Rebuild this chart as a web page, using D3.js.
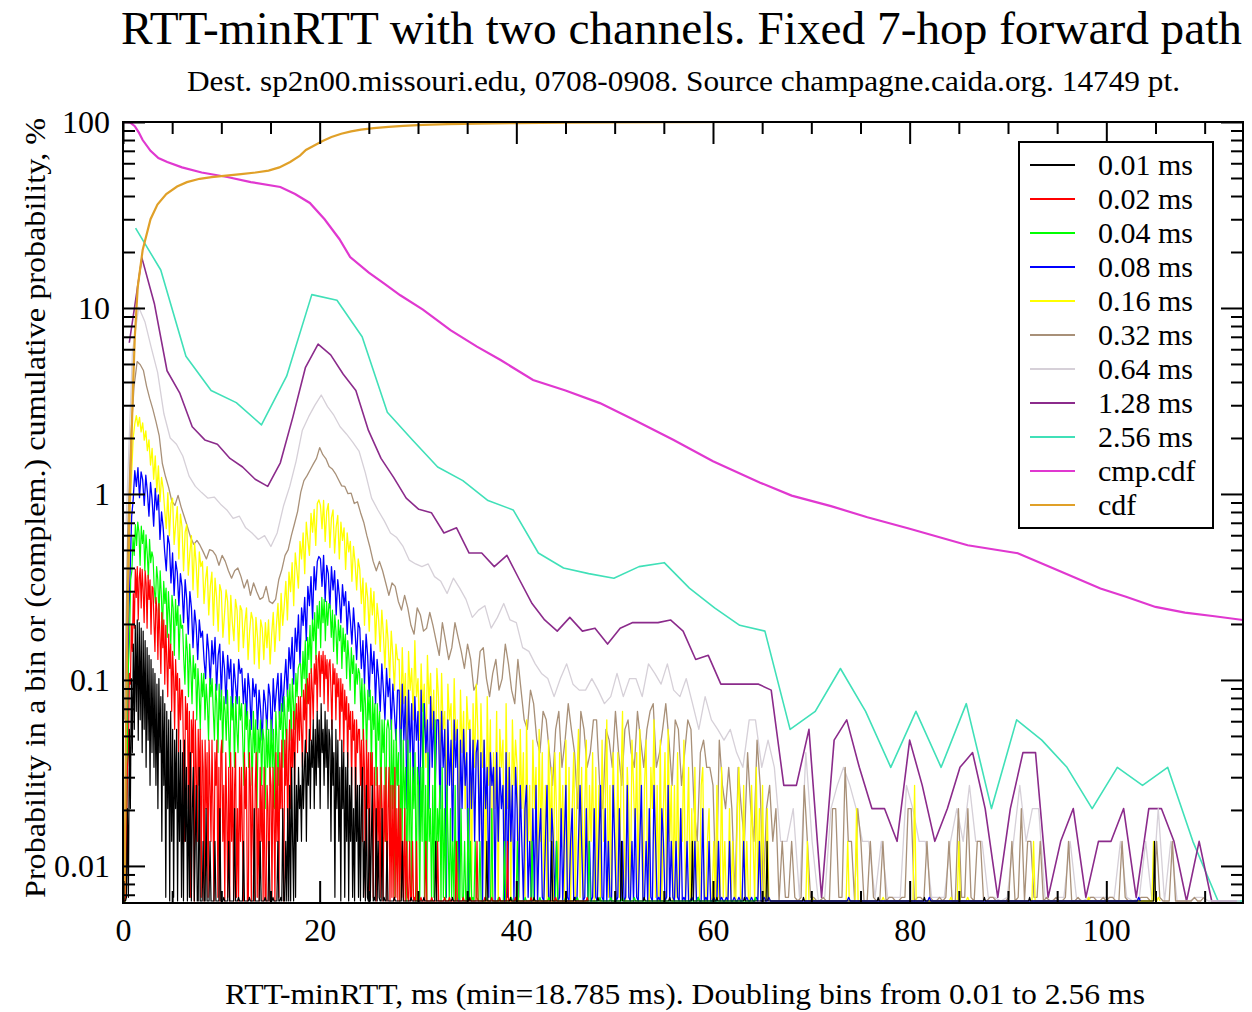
<!DOCTYPE html>
<html>
<head>
<meta charset="utf-8">
<script src="https://cdn.jsdelivr.net/npm/d3@7"></script>
<style>
  body { margin: 0; background: #ffffff; }
  svg { display: block; }
  text { font-family: "Liberation Serif", "Times New Roman", serif; fill: #000; }
</style>
</head>
<body>
<svg id="chart" width="1252" height="1012"></svg>
<script>
// ---- data -------------------------------------------------------------
const TOTAL_POINTS = 14749;           // number of RTT samples; bin value = count / total, in %

const seriesLabels = ["0.01 ms", "0.02 ms", "0.04 ms", "0.08 ms", "0.16 ms", "0.32 ms",
                      "0.64 ms", "1.28 ms", "2.56 ms", "cmp.cdf", "cdf"];
const seriesColors = ["#000000", "#ff0000", "#00ff00", "#0000ff", "#ffff00", "#a89078",
                      "#d6d0d8", "#8b2b8b", "#40e0b8", "#e038d0", "#e0a028"];

const xTickValues = [0, 20, 40, 60, 80, 100];
const yTickValues = [0.01, 0.1, 1, 10, 100];
const yTickLabels = ["0.01", "0.1", "1", "10", "100"];

// Bin counts. Fine bins are sampled at a stride wider than the bin itself;
// isolated non-empty bins further out are listed as [ms, count].
const counts256 = [3967, 2360, 811, 531, 457, 347, 634, 1740, 1622, 1032, 406, 288, 206, 174, 136,
  121, 71, 59, 55, 52, 60, 63, 46, 36, 29, 27, 8, 10, 17, 10, 5, 10, 5, 11, 3, 9, 7, 5, 3, 5, 4, 5, 2, 0, 0];

const counts128 = [959, 2743, 1549, 678, 516, 339, 288, 273, 229, 206, 177, 162, 217, 383, 708,
  944, 826, 649, 531, 324, 229, 181, 140, 122, 117, 91, 97, 71, 71, 60, 69, 51, 38, 31, 27, 32, 27,
  28, 23, 28, 30, 30, 30, 31, 27, 19, 20, 14, 14, 14, 14, 13, 4, 4, 8, 1, 7, 9, 5, 3, 3, 2, 7, 4,
  2, 3, 5, 6, 3, 1, 3, 6, 6, 1, 2, 3, 1, 2, 2, 3, 1, 3, 3, 2, 0, 2, 0, 0, 0];

const counts064 = [103, 855, 1490, 1239, 900, 664, 398, 295, 273, 236, 184, 162, 150, 140, 142,
  130, 121, 109, 112, 97, 91, 84, 88, 77, 91, 127, 162, 221, 325, 384, 443, 502, 435, 391, 339,
  310, 280, 251, 192, 140, 121, 106, 91, 86, 77, 65, 62, 60, 62, 53, 50, 43, 52, 46, 40, 32, 35,
  37, 28, 32, 38, 31, 30, 22, 21, 18, 16, 15, 12, 15, 18, 14, 13, 13, 15, 13, 11, 12, 16, 12, 15,
  15, 12, 18, 16, 14, 18, 13, 12, 15, 11, 8, 12, 9, 8, 7, 8, 6, 5, 9, 9, 5, 7, 5,
  2, 2, 3, 1, 6, 2, 0, 1, 3, 4, 5, 4, 3, 2, 2, 1, 2, 1, 1, 1, 4, 3, 2, 2, 1, 1, 1, 2, 3, 2, 4, 2,
  2, 1, 1, 0, 1, 2, 4, 2, 3, 3, 1, 0, 1, 1, 2, 1, 0, 1, 1, 1, 1, 1, 2, 1, 0, 1, 2, 0, 3, 0, 2, 0,
  0, 0, 1, 1, 0, 0, 0, 0, 0, 0];

const counts032 = [9, 94, 300, 555, 760, 730, 680, 559, 480, 420, 360, 304, 215, 183, 160, 135,
  128, 145, 125, 111, 98, 86, 79, 83, 78, 72, 66, 74, 73, 69, 61, 69, 64, 57, 52, 57, 59, 53, 46,
  51, 42, 49, 44, 40, 41, 47, 39, 38, 40, 51, 58, 69, 74, 88, 102, 119, 151, 174, 185, 199, 214,
  229, 262, 240, 228, 207, 201, 190, 176, 163, 162, 148, 149, 131, 134, 117, 104, 88, 76, 64, 57,
  64, 57, 49, 42, 49, 47, 39, 35, 42, 36, 29, 26, 36, 33, 27, 28, 34, 29, 24, 20, 30, 24, 19, 22,
  30, 25, 21, 17, 23, 19, 13, 14, 21, 22, 15, 12, 16, 19, 13, 15, 23, 18, 13, 11, 19, 13, 9, 8, 13,
  11, 7, 6, 10, 9, 6, 4, 8, 10, 5, 7, 11, 8, 6, 3, 10, 8, 5, 6, 9, 9, 4, 3, 8, 7, 5, 10, 6, 4, 8,
  9, 6, 5, 10, 7, 5, 8, 10, 11, 5, 6, 8, 11, 7, 4, 9, 8, 4, 6, 9, 8, 3, 2, 6, 7, 5, 5, 4, 1, 7, 4,
  3, 5, 3, 1, 5, 3, 2, 6, 3, 2, 7, 4, 1, 3, 4, 2, 3,
  0, 2, 1, 1, 2, 1, 0, 1, 4, 2, 1, 1, 0, 0, 1, 0, 0, 3, 3, 1, 1, 5, 2, 2, 0, 3, 2, 0, 0, 2, 1, 0,
  0, 2, 0, 1, 1, 0, 0, 1, 1, 3, 3, 0, 1, 1, 0, 2, 1, 0, 0, 1, 0, 1, 2, 0, 0, 3, 1, 1, 3, 1, 0, 2,
  2, 0, 0, 1, 1, 0, 0, 0, 0, 1, 2, 0, 1, 3, 0, 2, 2, 1, 1, 2, 0, 1, 0, 0, 1, 0, 0, 1, 2, 0, 0, 1,
  0, 0, 0, 1, 1, 0, 0, 1, 0, 1, 1, 0, 0, 2, 1, 0, 0, 0, 0, 1, 1, 1, 0, 0, 2, 1, 0, 0, 0, 2, 0, 0,
  0, 0, 0, 0, 1, 0, 0, 1];

const counts016 = [
  1, 0, 8, 46, 127, 191, 296, 352, 389, 341, 381, 318, 356, 287, 322, 252, 288, 211, 259, 177, 236, 151, 209, 134, 181,
  158, 121, 96, 150, 88, 131, 140, 79, 102, 126, 66, 115, 98, 57, 92, 101, 54, 71, 88, 45, 80, 62, 41, 72, 60,
  64, 38, 51, 60, 33, 47, 56, 29, 52, 41, 27, 48, 44, 25, 33, 45, 39, 23, 42, 30, 24, 40, 35, 21, 37,
  35, 22, 30, 36, 19, 27, 34, 31, 18, 32, 25, 17, 31, 28, 19, 30, 22, 31, 18, 26, 34, 21, 29, 38, 24,
  43, 29, 37, 50, 31, 56, 44, 63, 37, 71, 58, 46, 82, 66, 91, 55, 104, 83, 69, 116, 92, 122, 78, 131, 137,
  128, 96, 136, 82, 119, 131, 76, 110, 121, 71, 98, 113, 66, 104, 83, 97, 58, 91, 72, 82, 50, 77, 63, 45, 66,
  58, 38, 52, 29, 49, 41, 27, 46, 33, 44, 23, 38, 31, 21, 35, 26, 17, 31, 24, 15, 27, 20, 13, 23, 19,
  19, 8, 22, 11, 16, 6, 21, 13, 17, 9, 24, 12, 15, 7, 18, 10, 14, 5, 20, 11, 16, 8, 13, 4, 17,
  12, 5, 16, 8, 10, 3, 14, 9, 11, 4, 15, 7, 9, 2, 13, 6, 10, 3, 12, 8, 9, 1, 11, 5, 14,
  8, 2, 11, 5, 7, 0, 12, 4, 9, 1, 6, 3, 10, 0, 8, 5, 7, 1, 11, 3, 6, 0, 9, 4, 7,
  5, 0, 8, 3, 6, 1, 9, 2, 4, 0, 7, 3, 5, 0, 8, 2, 6, 1, 4, 0, 7, 2, 5, 0, 6,
  3, 0, 6, 2, 4, 0, 7, 1, 5, 0, 3, 6, 0, 4, 8, 1, 5, 0, 3, 7, 0, 4, 2, 6, 0,
  5, 1, 4, 0, 7, 2, 3, 9, 1, 4, 0, 6, 3, 0, 6, 1, 4, 10, 2, 0, 5, 3, 0, 7, 4,
  2, 6, 0, 8, 3, 0, 4, 7, 1, 0, 5, 3, 9, 1, 4, 0, 7, 0, 3, 6, 1, 8, 2, 4, 0,
  4, 1, 6, 0, 3, 2, 7, 0, 2, 5, 0, 3, 0, 5, 1, 2, 0, 4, 5, 1, 0, 2, 3, 0, 1,
  2, 0, 4, 1, 0, 5, 1, 2, 0, 1, 3, 0, 2, 1, 0, 3, 5, 0, 1, 4, 0, 2, 1, 0, 4,
  2, 0, 5, 1, 3, 0, 4, 1, 0, 3, 1, 0, 0];
const spikes016 = [[69.6, 2], [70.1, 1], [73.7, 2], [74.6, 3], [77.3, 1], [80.5, 4], [84.2, 1],
  [85.0, 2], [85.9, 1], [92.6, 2], [98.2, 1], [104.8, 2], [105.3, 1]];

const counts008 = [
  0, 1, 4, 28, 55, 112, 138, 197, 162, 204, 141, 194, 176, 128, 186, 151, 112, 170, 138, 99, 158, 121, 146, 84, 118,
  98, 72, 57, 88, 79, 49, 71, 42, 64, 56, 37, 55, 47, 30, 51, 40, 26, 44, 36, 22, 35, 29, 19, 31, 25,
  27, 19, 15, 26, 21, 14, 24, 18, 25, 13, 20, 23, 12, 21, 17, 11, 20, 15, 19, 10, 18, 14, 11, 19, 16,
  17, 11, 15, 9, 16, 13, 8, 15, 12, 14, 8, 13, 10, 7, 13, 11, 8, 14, 12, 7, 15, 10, 13, 16, 9,
  16, 10, 14, 19, 12, 22, 17, 25, 14, 28, 21, 33, 18, 36, 29, 41, 24, 47, 37, 53, 31, 60, 45, 64, 68,
  66, 47, 69, 39, 61, 55, 36, 60, 45, 57, 33, 51, 42, 30, 48, 37, 44, 26, 39, 31, 23, 36, 27, 19, 30,
  28, 17, 24, 14, 26, 20, 12, 23, 16, 21, 11, 19, 15, 10, 18, 13, 9, 17, 12, 15, 8, 14, 10, 7, 13,
  13, 5, 14, 7, 12, 3, 13, 6, 11, 4, 12, 7, 10, 2, 13, 5, 11, 6, 9, 3, 12, 5, 10, 4, 9,
  9, 3, 10, 5, 8, 1, 9, 4, 7, 2, 9, 5, 8, 0, 7, 3, 8, 4, 6, 1, 8, 3, 7, 2, 6,
  7, 2, 6, 0, 7, 3, 5, 1, 6, 4, 5, 0, 6, 2, 5, 3, 4, 0, 6, 1, 5, 2, 4, 0, 5,
  3, 1, 4, 2, 0, 3, 4, 1, 2, 0, 3, 1, 4, 0, 2, 3, 1, 0, 2, 4, 1, 0, 3, 2, 0,
  2, 0, 1, 3, 0, 2, 4, 1, 0, 2, 3, 0, 1, 0, 2, 4, 2, 0, 1, 3, 0, 2, 0, 1, 3,
  1, 0, 2, 4, 1, 0, 3, 0, 2, 1, 0, 4, 2, 0, 1, 3, 0, 2, 0, 1, 4, 1, 0, 2, 0,
  3, 1, 0, 2, 4, 0, 1, 2, 0, 3, 1, 0, 4, 2, 0, 1, 0, 3, 2, 0, 1, 4, 0, 2, 1,
  0, 2, 1, 0, 3, 0, 1, 0, 2, 0, 0, 1, 0, 2, 0, 1, 0, 0, 3, 0, 1, 0, 2, 0, 0,
  1, 0, 0, 2, 0, 1, 0, 0, 1, 0, 2, 0, 0, 1, 0, 0, 1, 0, 0, 2, 0, 1, 0, 0, 1,
  0, 0, 1, 0, 2, 0, 0, 1, 0, 0, 1, 0, 0];
const spikes008 = [[73.8, 1], [82.0, 1], [103.3, 1]];

const counts004 = [
  0, 0, 2, 4, 17, 24, 51, 57, 86, 69, 101, 78, 104, 92, 61, 99, 80, 94, 57, 89, 71, 52, 84, 63, 72,
  67, 45, 38, 60, 51, 32, 57, 42, 27, 50, 38, 46, 25, 44, 33, 23, 42, 36, 20, 40, 29, 37, 19, 33, 28,
  29, 19, 14, 26, 21, 12, 23, 17, 11, 20, 15, 18, 9, 17, 13, 8, 16, 12, 16, 9, 14, 11, 7, 15, 12,
  15, 10, 7, 14, 11, 6, 14, 9, 13, 6, 12, 10, 7, 13, 8, 5, 12, 9, 11, 5, 12, 8, 6, 12, 9,
  11, 7, 4, 11, 8, 10, 5, 9, 7, 4, 10, 6, 9, 3, 8, 6, 9, 4, 8, 7, 3, 9, 5, 8, 4,
  9, 5, 8, 3, 10, 7, 4, 10, 8, 11, 5, 12, 9, 6, 13, 10, 14, 7, 15, 11, 8, 16, 12, 17, 18,
  18, 12, 21, 15, 24, 11, 25, 19, 29, 16, 31, 24, 34, 19, 37, 28, 39, 22, 41, 30, 40, 24, 39, 29, 38,
  37, 25, 35, 21, 33, 27, 18, 31, 24, 29, 17, 28, 21, 26, 15, 24, 19, 13, 22, 16, 20, 11, 18, 14, 17,
  16, 10, 15, 7, 14, 11, 6, 13, 9, 13, 5, 12, 8, 11, 4, 11, 7, 10, 3, 9, 6, 9, 2, 8, 9,
  8, 2, 9, 3, 7, 1, 8, 4, 6, 0, 8, 2, 7, 3, 5, 0, 7, 2, 6, 1, 5, 3, 6, 0, 5,
  4, 0, 5, 2, 11, 1, 4, 0, 6, 2, 3, 0, 4, 1, 9, 0, 3, 2, 4, 0, 5, 1, 3, 0, 4,
  2, 0, 3, 1, 2, 0, 4, 0, 2, 1, 0, 3, 1, 0, 2, 0, 1, 3, 0, 2, 0, 1, 0, 2, 1];
const spikes004 = [[36.3, 2], [36.9, 1], [37.5, 3], [38.2, 1], [38.8, 2], [39.5, 1], [40.1, 2],
  [40.9, 1], [41.6, 2], [42.4, 1], [43.3, 1], [44.1, 2], [45.0, 1], [46.2, 1], [47.4, 2], [48.5, 1],
  [49.6, 1], [50.8, 1], [52.0, 1], [58.5, 1], [64.3, 1]];

const counts002 = [
  0, 0, 1, 2, 5, 6, 16, 14, 29, 21, 43, 28, 58, 41, 60, 31, 52, 59, 36, 58, 45, 30, 57, 49, 28, 54, 40, 51, 26, 47,
  46, 30, 21, 41, 35, 19, 38, 26, 16, 34, 22, 31, 14, 29, 19, 12, 26, 17, 23, 10, 21, 15, 8, 19, 13, 16, 6, 15, 9, 13,
  13, 6, 2, 12, 8, 11, 3, 10, 1, 9, 6, 10, 0, 9, 5, 2, 8, 4, 8, 1, 7, 5, 0, 7, 3, 6, 1, 7, 4, 2,
  7, 3, 0, 6, 4, 7, 1, 5, 0, 6, 7, 2, 4, 0, 6, 3, 1, 5, 0, 6, 2, 5, 0, 4, 6, 1, 3, 0, 5, 2,
  5, 2, 0, 6, 3, 5, 0, 1, 6, 4, 0, 5, 2, 0, 4, 6, 1, 3, 0, 5, 2, 4, 0, 5, 1, 0, 4, 3, 0, 5,
  4, 1, 5, 3, 0, 6, 2, 5, 1, 6, 3, 7, 2, 0, 7, 4, 8, 2, 6, 9, 3, 8, 5, 10, 4, 9, 11, 6, 12, 7,
  12, 8, 5, 13, 9, 14, 6, 15, 11, 16, 7, 17, 13, 9, 18, 14, 20, 10, 19, 21, 12, 20, 16, 21, 11, 20, 15, 19, 10, 18,
  19, 13, 8, 18, 14, 17, 9, 16, 12, 15, 7, 15, 10, 14, 6, 13, 9, 12, 5, 11, 8, 10, 4, 10, 7, 9, 3, 9, 6, 8,
  8, 4, 7, 2, 8, 5, 1, 7, 3, 6, 0, 6, 4, 6, 1, 5, 3, 0, 5, 2, 4, 1, 5, 3, 0, 4, 2, 5, 0, 3,
  5, 0, 4, 1, 4, 0, 5, 1, 3, 0, 4, 0, 3, 1, 2, 0, 3, 0, 2, 1, 0, 2, 0, 1, 2, 0, 1, 0, 2, 0];
const spikes002 = [[30.3, 1], [30.8, 2], [31.4, 1], [32.0, 2], [32.7, 1], [33.2, 1], [33.9, 2],
  [34.6, 1], [35.3, 1], [36.0, 2], [36.8, 1], [37.5, 1], [38.3, 1], [39.1, 2], [39.9, 1], [41.5, 1],
  [44.0, 1], [47.2, 1]];

const counts001 = [
  0, 0, 0, 1, 3, 1, 8, 3, 15, 6, 23, 8, 29, 10, 31, 7, 30, 9, 28, 6, 27, 8, 24, 5, 22, 7, 20, 4, 19, 6,
  17, 5, 16, 4, 14, 3, 15, 6, 12, 2, 13, 4, 11, 1, 10, 3, 9, 0, 10, 2, 8, 1, 7, 3, 8, 0, 6, 2, 7, 1,
  6, 0, 7, 2, 5, 0, 4, 1, 6, 0, 3, 5, 0, 2, 4, 0, 0, 5, 0, 0, 0, 2, 0, 0, 3, 0, 0, 0, 2, 0,
  0, 0, 0, 2, 0, 0, 0, 0, 3, 0, 0, 0, 1, 0, 0, 0, 0, 2, 0, 0, 0, 0, 0, 3, 0, 0, 0, 1, 0, 0,
  0, 0, 2, 0, 0, 0, 0, 0, 1, 0, 0, 0, 0, 3, 0, 0, 0, 0, 0, 2, 0, 0, 0, 0, 1, 0, 0, 0, 2, 0,
  0, 0, 1, 0, 0, 0, 0, 2, 0, 0, 1, 0, 3, 0, 0, 2, 0, 3, 0, 4, 0, 5, 2, 0, 6, 1, 4, 2, 5, 3,
  4, 2, 6, 3, 5, 7, 2, 6, 4, 8, 3, 7, 5, 9, 3, 8, 4, 10, 5, 9, 3, 11, 6, 8, 4, 10, 5, 9, 3, 8,
  7, 2, 9, 4, 6, 1, 8, 3, 7, 2, 5, 0, 7, 3, 6, 1, 5, 2, 6, 0, 4, 2, 5, 1, 3, 0, 5, 2, 4, 1,
  4, 0, 3, 5, 1, 2, 0, 4, 1, 0, 3, 0, 2, 4, 0, 1, 0, 3, 0, 2, 1, 0, 0, 3, 0, 1, 0, 0, 2, 0];
const spikes001 = [[27.6, 1], [28.4, 2], [29.3, 1], [30.6, 1], [31.8, 2], [33.5, 1], [35.2, 1],
  [37.0, 2], [39.4, 1], [41.8, 1], [43.6, 2], [45.9, 1], [48.3, 1], [50.7, 2], [53.0, 1], [55.6, 1],
  [57.9, 2], [60.4, 1], [63.2, 1], [65.5, 2], [69.2, 1], [76.8, 1], [81.5, 1], [87.6, 1], [92.2, 1],
  [104.9, 2]];

// Cumulative curves, in %
const cmpX = [0, 0.7, 1.2, 1.6, 2.0, 2.8, 3.6, 4.5, 6, 8, 10.6, 13, 16, 17.5, 19, 20.5, 22, 23.1,
  25, 26.5, 28.2, 30.5, 33.3, 36, 38.4, 41.7, 45, 48.5, 52, 56, 60, 64.8, 68, 72, 75.7, 80, 85.9,
  91, 95, 99.4, 102, 105, 108, 111, 113.9];
const cmpY = [100, 99.5, 95, 88, 80, 70, 64, 61, 57, 53.5, 50.6, 47.5, 44.7, 41, 36.7, 30, 23.5,
  18.8, 15.5, 13.6, 11.7, 9.8, 7.6, 6.2, 5.25, 4.1, 3.6, 3.08, 2.5, 1.95, 1.5, 1.15, 0.98, 0.86,
  0.75, 0.65, 0.53, 0.48, 0.39, 0.31, 0.28, 0.247, 0.23, 0.22, 0.21];
const cdfX = [0, 0.15, 0.3, 0.5, 0.65, 0.8, 1.0, 1.2, 1.5, 2.0, 2.8, 3.5, 4.4, 5.5, 6.5, 7.8, 9.0,
  10.5, 12.0, 13.5, 14.8, 15.9, 17.0, 18.0, 18.6, 19.5, 20.3, 21.2, 22.2, 23.2, 24.2, 25.5, 27.0,
  28.5, 30.5, 33.0, 36.0, 40.0, 45.0, 50.0, 56.0, 63.6];
const cdfY = [0.0068, 0.007, 0.05, 0.3, 0.8, 1.5, 3.5, 7.0, 13, 20.5, 30, 36, 41, 45, 47.5, 49.5,
  50.5, 51.5, 52.5, 53.5, 54.8, 57, 61, 66, 70.7, 75, 79, 83, 86.5, 89, 91, 92.8, 94.2, 95.3, 96.4,
  97.3, 98.0, 98.7, 99.2, 99.5, 99.75, 100];

// ---- layout -----------------------------------------------------------
const svg = d3.select("#chart");
const plot = { left: 123, right: 1243, top: 122, bottom: 903 };
const x = d3.scaleLinear().domain([0, 113.9]).range([plot.left, plot.right]);
const y = d3.scaleLog().domain([0.00632, 100]).range([plot.bottom, plot.top]);
const zeroY = plot.bottom - 2;   // empty bins sit on the lower edge

svg.append("rect").attr("width", 1252).attr("height", 1012).attr("fill", "#fff");

svg.append("defs").append("clipPath").attr("id", "plotClip")
  .append("rect").attr("x", plot.left).attr("y", plot.top)
  .attr("width", plot.right - plot.left).attr("height", plot.bottom - plot.top);

const binSeries = [
  { i: 0, x0: 0.05, step: 0.1,  counts: counts001, spikes: spikes001, w: 1.2 },
  { i: 1, x0: 0.05, step: 0.1,  counts: counts002, spikes: spikes002, w: 1.2 },
  { i: 2, x0: 0.06, step: 0.12, counts: counts004, spikes: spikes004, w: 1.2 },
  { i: 3, x0: 0.08, step: 0.16, counts: counts008, spikes: spikes008, w: 1.3 },
  { i: 4, x0: 0.08, step: 0.16, counts: counts016, spikes: spikes016, w: 1.3 },
  { i: 5, x0: 0.16, step: 0.32, counts: counts032, spikes: [], w: 1.3 },
  { i: 6, x0: 0.32, step: 0.64, counts: counts064, spikes: [], w: 1.3 },
  { i: 7, x0: 0.64, step: 1.28, counts: counts128, spikes: [], w: 1.6 },
  { i: 8, x0: 1.28, step: 2.56, counts: counts256, spikes: [], w: 1.6 }
];

function seriesPoints(s) {
  const pts = s.counts.map((c, k) => ({ x: s.x0 + k * s.step, c }));
  s.spikes.forEach(([sx, c]) => {
    pts.push({ x: sx - s.step, c: 0 }, { x: sx, c }, { x: sx + s.step, c: 0 });
  });
  return pts.sort((a, b) => a.x - b.x);
}

const binLine = d3.line()
  .x(d => x(d.x))
  .y(d => d.c > 0 ? y(d.c / TOTAL_POINTS * 100) : zeroY);

const gData = svg.append("g").attr("clip-path", "url(#plotClip)");

// coarse bins first, finest bins on top
binSeries.slice().reverse().forEach(s => {
  gData.append("path")
    .datum(seriesPoints(s))
    .attr("fill", "none")
    .attr("stroke", seriesColors[s.i])
    .attr("stroke-width", s.w)
    .attr("stroke-linejoin", "round")
    .attr("d", binLine);
});

const cumLine = d3.line().x(d => x(d[0])).y(d => y(d[1]));
gData.append("path")
  .datum(cmpX.map((v, k) => [v, cmpY[k]]))
  .attr("fill", "none").attr("stroke", seriesColors[9]).attr("stroke-width", 2.2)
  .attr("d", cumLine);
gData.append("path")
  .datum(cdfX.map((v, k) => [v, cdfY[k]]))
  .attr("fill", "none").attr("stroke", seriesColors[10]).attr("stroke-width", 2.2)
  .attr("d", cumLine);

// ---- axes -------------------------------------------------------------
const xMinor = d3.range(0, 114, 5).filter(v => v % 20 !== 0);
const yMinor = [];
[0.001, 0.01, 0.1, 1, 10].forEach(d => {
  for (let m = 2; m <= 9; m++) {
    const v = m * d;
    if (v >= 0.00632 && v < 100) yMinor.push(v);
  }
});

function styleAxis(g) {
  g.select(".domain").remove();
  g.selectAll(".tick line").attr("stroke", "#000").attr("stroke-width", 2);
  g.selectAll(".tick text").attr("font-size", 32)
    .attr("font-family", "Liberation Serif, Times New Roman, serif").attr("fill", "#000");
}

svg.append("g").attr("transform", `translate(0,${plot.bottom})`)
  .call(d3.axisBottom(x).tickValues(xTickValues).tickSize(-22).tickPadding(15).tickFormat(d3.format("d")))
  .call(styleAxis);
svg.append("g").attr("transform", `translate(0,${plot.bottom})`)
  .call(d3.axisBottom(x).tickValues(xMinor).tickSize(-12).tickFormat(""))
  .call(styleAxis);
svg.append("g").attr("transform", `translate(0,${plot.top})`)
  .call(d3.axisTop(x).tickValues(xTickValues).tickSize(-22).tickFormat(""))
  .call(styleAxis);
svg.append("g").attr("transform", `translate(0,${plot.top})`)
  .call(d3.axisTop(x).tickValues(xMinor).tickSize(-12).tickFormat(""))
  .call(styleAxis);

svg.append("g").attr("transform", `translate(${plot.left},0)`)
  .call(d3.axisLeft(y).tickValues(yTickValues).tickSize(-22).tickPadding(13)
    .tickFormat((d, k) => yTickLabels[k]))
  .call(styleAxis);
svg.append("g").attr("transform", `translate(${plot.left},0)`)
  .call(d3.axisLeft(y).tickValues(yMinor).tickSize(-12).tickFormat(""))
  .call(styleAxis);
svg.append("g").attr("transform", `translate(${plot.right},0)`)
  .call(d3.axisRight(y).tickValues(yTickValues).tickSize(-22).tickFormat(""))
  .call(styleAxis);
svg.append("g").attr("transform", `translate(${plot.right},0)`)
  .call(d3.axisRight(y).tickValues(yMinor).tickSize(-12).tickFormat(""))
  .call(styleAxis);

svg.append("rect")
  .attr("x", plot.left).attr("y", plot.top)
  .attr("width", plot.right - plot.left).attr("height", plot.bottom - plot.top)
  .attr("fill", "none").attr("stroke", "#000").attr("stroke-width", 2);

// ---- titles -----------------------------------------------------------
svg.append("text").attr("x", 121).attr("y", 44)
  .attr("font-size", 46).attr("textLength", 1121).attr("lengthAdjust", "spacingAndGlyphs")
  .text("RTT-minRTT with two channels. Fixed 7-hop forward path");
svg.append("text").attr("x", 187).attr("y", 91)
  .attr("font-size", 30).attr("textLength", 993).attr("lengthAdjust", "spacingAndGlyphs")
  .text("Dest. sp2n00.missouri.edu, 0708-0908. Source champagne.caida.org. 14749 pt.");
svg.append("text").attr("x", 225).attr("y", 1004)
  .attr("font-size", 30).attr("textLength", 920).attr("lengthAdjust", "spacingAndGlyphs")
  .text("RTT-minRTT, ms (min=18.785 ms). Doubling bins from 0.01 to 2.56 ms");
svg.append("text").attr("transform", "translate(45,508) rotate(-90)")
  .attr("text-anchor", "middle")
  .attr("font-size", 29).attr("textLength", 780).attr("lengthAdjust", "spacingAndGlyphs")
  .text("Probability in a bin or (complem.) cumulative probability, %");

// ---- legend -----------------------------------------------------------
const legend = svg.append("g");
legend.append("rect").attr("x", 1019).attr("y", 142).attr("width", 194).attr("height", 386)
  .attr("fill", "#fff").attr("stroke", "#000").attr("stroke-width", 2);
seriesLabels.forEach((lab, k) => {
  const cy = 165 + k * 34;
  legend.append("line").attr("x1", 1030).attr("x2", 1075).attr("y1", cy).attr("y2", cy)
    .attr("stroke", seriesColors[k]).attr("stroke-width", 2);
  legend.append("text").attr("x", 1098).attr("y", cy + 10).attr("font-size", 30).text(lab);
});
</script>
</body>
</html>
